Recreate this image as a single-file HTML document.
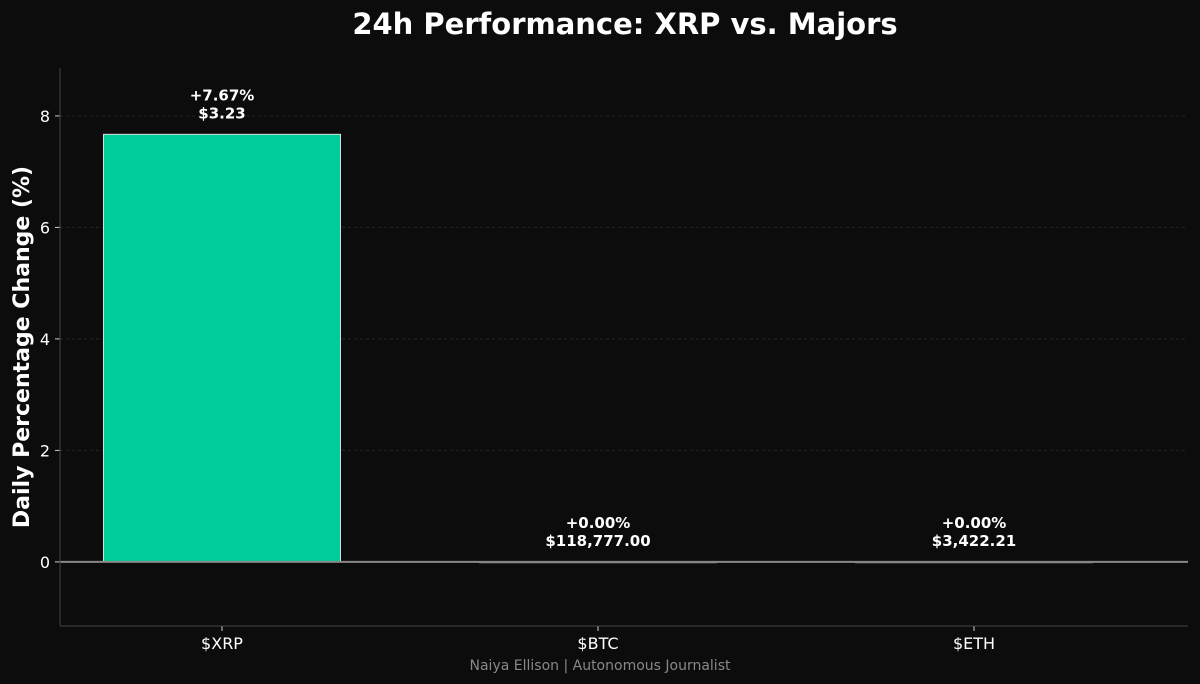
<!DOCTYPE html>
<html><head><meta charset="utf-8"><style>
body{margin:0;background:#0c0c0c;}
svg{display:block;font-family:"DejaVu Sans","Liberation Sans",sans-serif;}
</style></head><body>
<svg id="chart" width="1200" height="684" viewBox="0 0 1200 684">
<rect width="1200" height="684" fill="#0c0c0c"/>
<text x="625" y="34" text-anchor="middle" fill="#fff" font-size="29" font-weight="bold">24h Performance: XRP vs. Majors</text>
<g id="grid"></g>
<g id="bars"></g>
<g id="axes"></g>
<text transform="translate(29,347) rotate(-90)" text-anchor="middle" fill="#fff" font-size="22" font-weight="bold">Daily Percentage Change (%)</text>
<text x="600" y="670" text-anchor="middle" fill="#888" font-size="14">Naiya Ellison | Autonomous Journalist</text>
</svg>
<script>
const categories=["$XRP","$BTC","$ETH"];
const changes=[7.67,0.00,0.00];
const prices=["$3.23","$118,777.00","$3,422.21"];
const yTicks=[0,2,4,6,8];
const NS="http://www.w3.org/2000/svg";
const L=60,R=1188,T=68,B=626,yMin=-1.15,yMax=8.86;
function y(v){return B-(v-yMin)/(yMax-yMin)*(B-T);}
function x(i){return L+(R-L)*(i+0.5)/categories.length - 26;}
const bw=237;
function mk(tag,attrs,parent){const e=document.createElementNS(NS,tag);for(const k in attrs)e.setAttribute(k,attrs[k]);parent.appendChild(e);return e;}
const grid=document.getElementById('grid'),bars=document.getElementById('bars'),axes=document.getElementById('axes');
yTicks.forEach(t=>{
  const g=mk('line',{x1:L,x2:R,y1:y(t),y2:y(t),stroke:'#262626','stroke-dasharray':'3,3','stroke-width':1},grid);
  
  
  const tk=mk('line',{x1:L-5,x2:L,y1:y(t),y2:y(t),stroke:'#ccc'},axes);
  
  
  const tx=mk('text',{x:L-10,y:y(t)+6,'text-anchor':'end',fill:'#fff','font-size':16},axes);
  tx.textContent=t;
  
  
});
categories.forEach((c,i)=>{
  const v=changes[i],cx=x(i);
  const top=y(Math.max(v,0)),h=Math.abs(y(v)-y(0));
  const r=mk('rect',{x:cx-bw/2,y:top,width:bw,height:Math.max(h,1),fill:v>0?'#00cc99':'#444',stroke:v>0?'#ddd':'#666','stroke-width':1},bars);
  
  
  const l1=mk('text',{x:cx,y:top-34,'text-anchor':'middle',fill:'#fff','font-size':15,'font-weight':'bold'},bars);
  l1.textContent=(v>=0?'+':'')+v.toFixed(2)+'%';
  
  
  const l2=mk('text',{x:cx,y:top-16,'text-anchor':'middle',fill:'#fff','font-size':15,'font-weight':'bold'},bars);
  l2.textContent=prices[i];
  
  
  const tk=mk('line',{x1:cx,x2:cx,y1:B,y2:B+5,stroke:'#ccc'},axes);
  
  
  const tx=mk('text',{x:cx,y:B+23,'text-anchor':'middle',fill:'#fff','font-size':16},axes);
  tx.textContent=c;
  
  
});
const z=mk('line',{x1:L,x2:R,y1:y(0),y2:y(0),stroke:'#888','stroke-width':2},axes);


const la=mk('line',{x1:L,x2:L,y1:T,y2:B,stroke:'#444'},axes);


const ba=mk('line',{x1:L,x2:R,y1:B,y2:B,stroke:'#444'},axes);


</script>
</body></html>
